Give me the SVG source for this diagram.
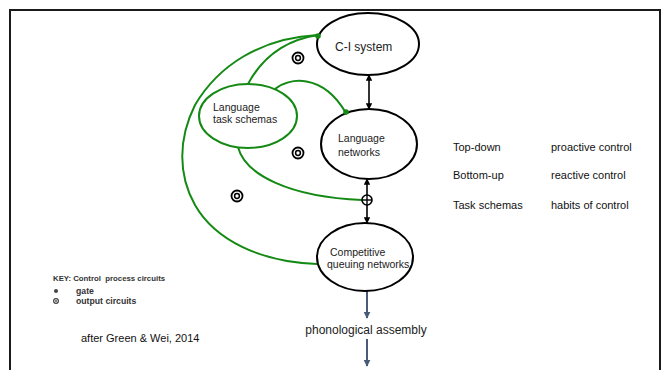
<svg xmlns="http://www.w3.org/2000/svg" width="665" height="370" viewBox="0 0 665 370">
  <defs>
    <marker id="headBlack" viewBox="0 0 10 10" refX="9" refY="5" markerWidth="4" markerHeight="4" orient="auto-start-reverse">
      <path d="M0,0 L10,5 L0,10 z" fill="#000"/>
    </marker>
    <marker id="headSlate" viewBox="0 0 10 10" refX="9" refY="5" markerWidth="3.5" markerHeight="3.5" orient="auto">
      <path d="M0,0 L10,5 L0,10 z" fill="#4a5a78"/>
    </marker>
    <g id="outCircuit">
      <circle r="5.5" fill="none" stroke="#000" stroke-width="1.8"/>
      <circle r="2.4" fill="none" stroke="#000" stroke-width="1.5"/>
    </g>
  </defs>
  <style>
    .node { fill: #fff; stroke: #000; stroke-width: 2; }
    .green { fill: none; stroke: #148a14; stroke-width: 2; }
    .lbl { font-family: "Liberation Sans", Arial, sans-serif; font-size: 10.5px; fill: #222; }
    .side { font-family: "Liberation Sans", Arial, sans-serif; font-size: 11px; fill: #111; }
    .key { font-family: "Liberation Sans", Arial, sans-serif; font-size: 7.8px; font-weight: bold; fill: #333; white-space: pre; }
    .keyItem { font-size: 8.7px; }
  </style>

  <rect width="665" height="370" fill="#fff"/>
  <!-- slide frame -->
  <rect x="10" y="10" width="650" height="380" fill="none" stroke="#1a1a1a" stroke-width="2"/>

  <g id="connectors">
    <path class="green" d="M318,35 C260,38 218,66 195,105 C178,139 178,175 195,205 C215,240 260,262 317,264"/>
    <path class="green" d="M248,84 C262,58 285,40 318,35"/>
    <path class="green" d="M275,89 C288,78 322,72 346,113"/>
    <path class="green" d="M238,147 C245,175 290,197 362,200"/>

    <line x1="369" y1="75" x2="369" y2="109" stroke="#000" stroke-width="1.6" marker-start="url(#headBlack)" marker-end="url(#headBlack)"/>
    <line x1="367" y1="179" x2="367" y2="223" stroke="#000" stroke-width="1.6" marker-start="url(#headBlack)" marker-end="url(#headBlack)"/>
    <g id="gate">
      <circle cx="367" cy="200" r="5" fill="#fff" stroke="#000" stroke-width="1.6"/>
      <line x1="362" y1="200" x2="372" y2="200" stroke="#000" stroke-width="1.4"/>
      <line x1="367" y1="195" x2="367" y2="205" stroke="#000" stroke-width="1.4"/>
    </g>

    <line x1="367" y1="291" x2="367" y2="318" stroke="#4a5a78" stroke-width="2" marker-end="url(#headSlate)"/>
    <line x1="367" y1="339" x2="367" y2="366" stroke="#4a5a78" stroke-width="2" marker-end="url(#headSlate)"/>
  </g>

  <g id="ci-system">
    <ellipse class="node" cx="368" cy="44" rx="51" ry="31"/>
    <text class="lbl" x="335" y="51" style="font-size:12px">C-I system</text>
  </g>

  <g id="task-schemas">
    <ellipse cx="248" cy="116" rx="49" ry="32" fill="none" stroke="#148a14" stroke-width="2"/>
    <text class="lbl" x="213" y="111">Language</text>
    <text class="lbl" x="213" y="123">task schemas</text>
  </g>

  <g id="language-networks">
    <ellipse class="node" cx="369" cy="144" rx="48" ry="35"/>
    <text class="lbl" x="338" y="142">Language</text>
    <text class="lbl" x="338" y="156">networks</text>
  </g>

  <g id="cq-networks">
    <ellipse class="node" cx="365" cy="257" rx="48" ry="34"/>
    <text class="lbl" x="330" y="256">Competitive</text>
    <text class="lbl" x="327" y="268">queuing networks</text>
  </g>

  <!-- gate contacts on the node outlines -->
  <g id="gate-dots">
    <circle cx="318" cy="36" r="2.8" fill="#148a14"/>
    <circle cx="346" cy="112" r="2.8" fill="#148a14"/>
  </g>

  <g id="phonological">
    <text class="lbl" x="366" y="334" text-anchor="middle" style="font-size:12px">phonological assembly</text>
  </g>

  <g id="output-circuits">
    <use href="#outCircuit" x="298" y="58"/>
    <use href="#outCircuit" x="298" y="153"/>
    <use href="#outCircuit" x="237" y="196"/>
  </g>

  <g id="legend-right">
    <text class="side" x="453" y="151">Top-down</text>
    <text class="side" x="551" y="151">proactive control</text>
    <text class="side" x="453" y="179">Bottom-up</text>
    <text class="side" x="551" y="179">reactive control</text>
    <text class="side" x="453" y="209">Task schemas</text>
    <text class="side" x="551" y="209">habits of control</text>
  </g>

  <g id="key">
    <text class="key" x="53" y="281" xml:space="preserve">KEY: Control  process circuits</text>
    <circle cx="56" cy="291" r="2" fill="#444"/>
    <text class="key keyItem" x="76" y="294">gate</text>
    <circle cx="56" cy="301" r="2.4" fill="none" stroke="#444" stroke-width="1.2"/>
    <circle cx="56" cy="301" r="0.9" fill="#444"/>
    <text class="key keyItem" x="76" y="304">output circuits</text>
  </g>

  <text class="side" x="81" y="342">after Green &amp; Wei, 2014</text>
</svg>
